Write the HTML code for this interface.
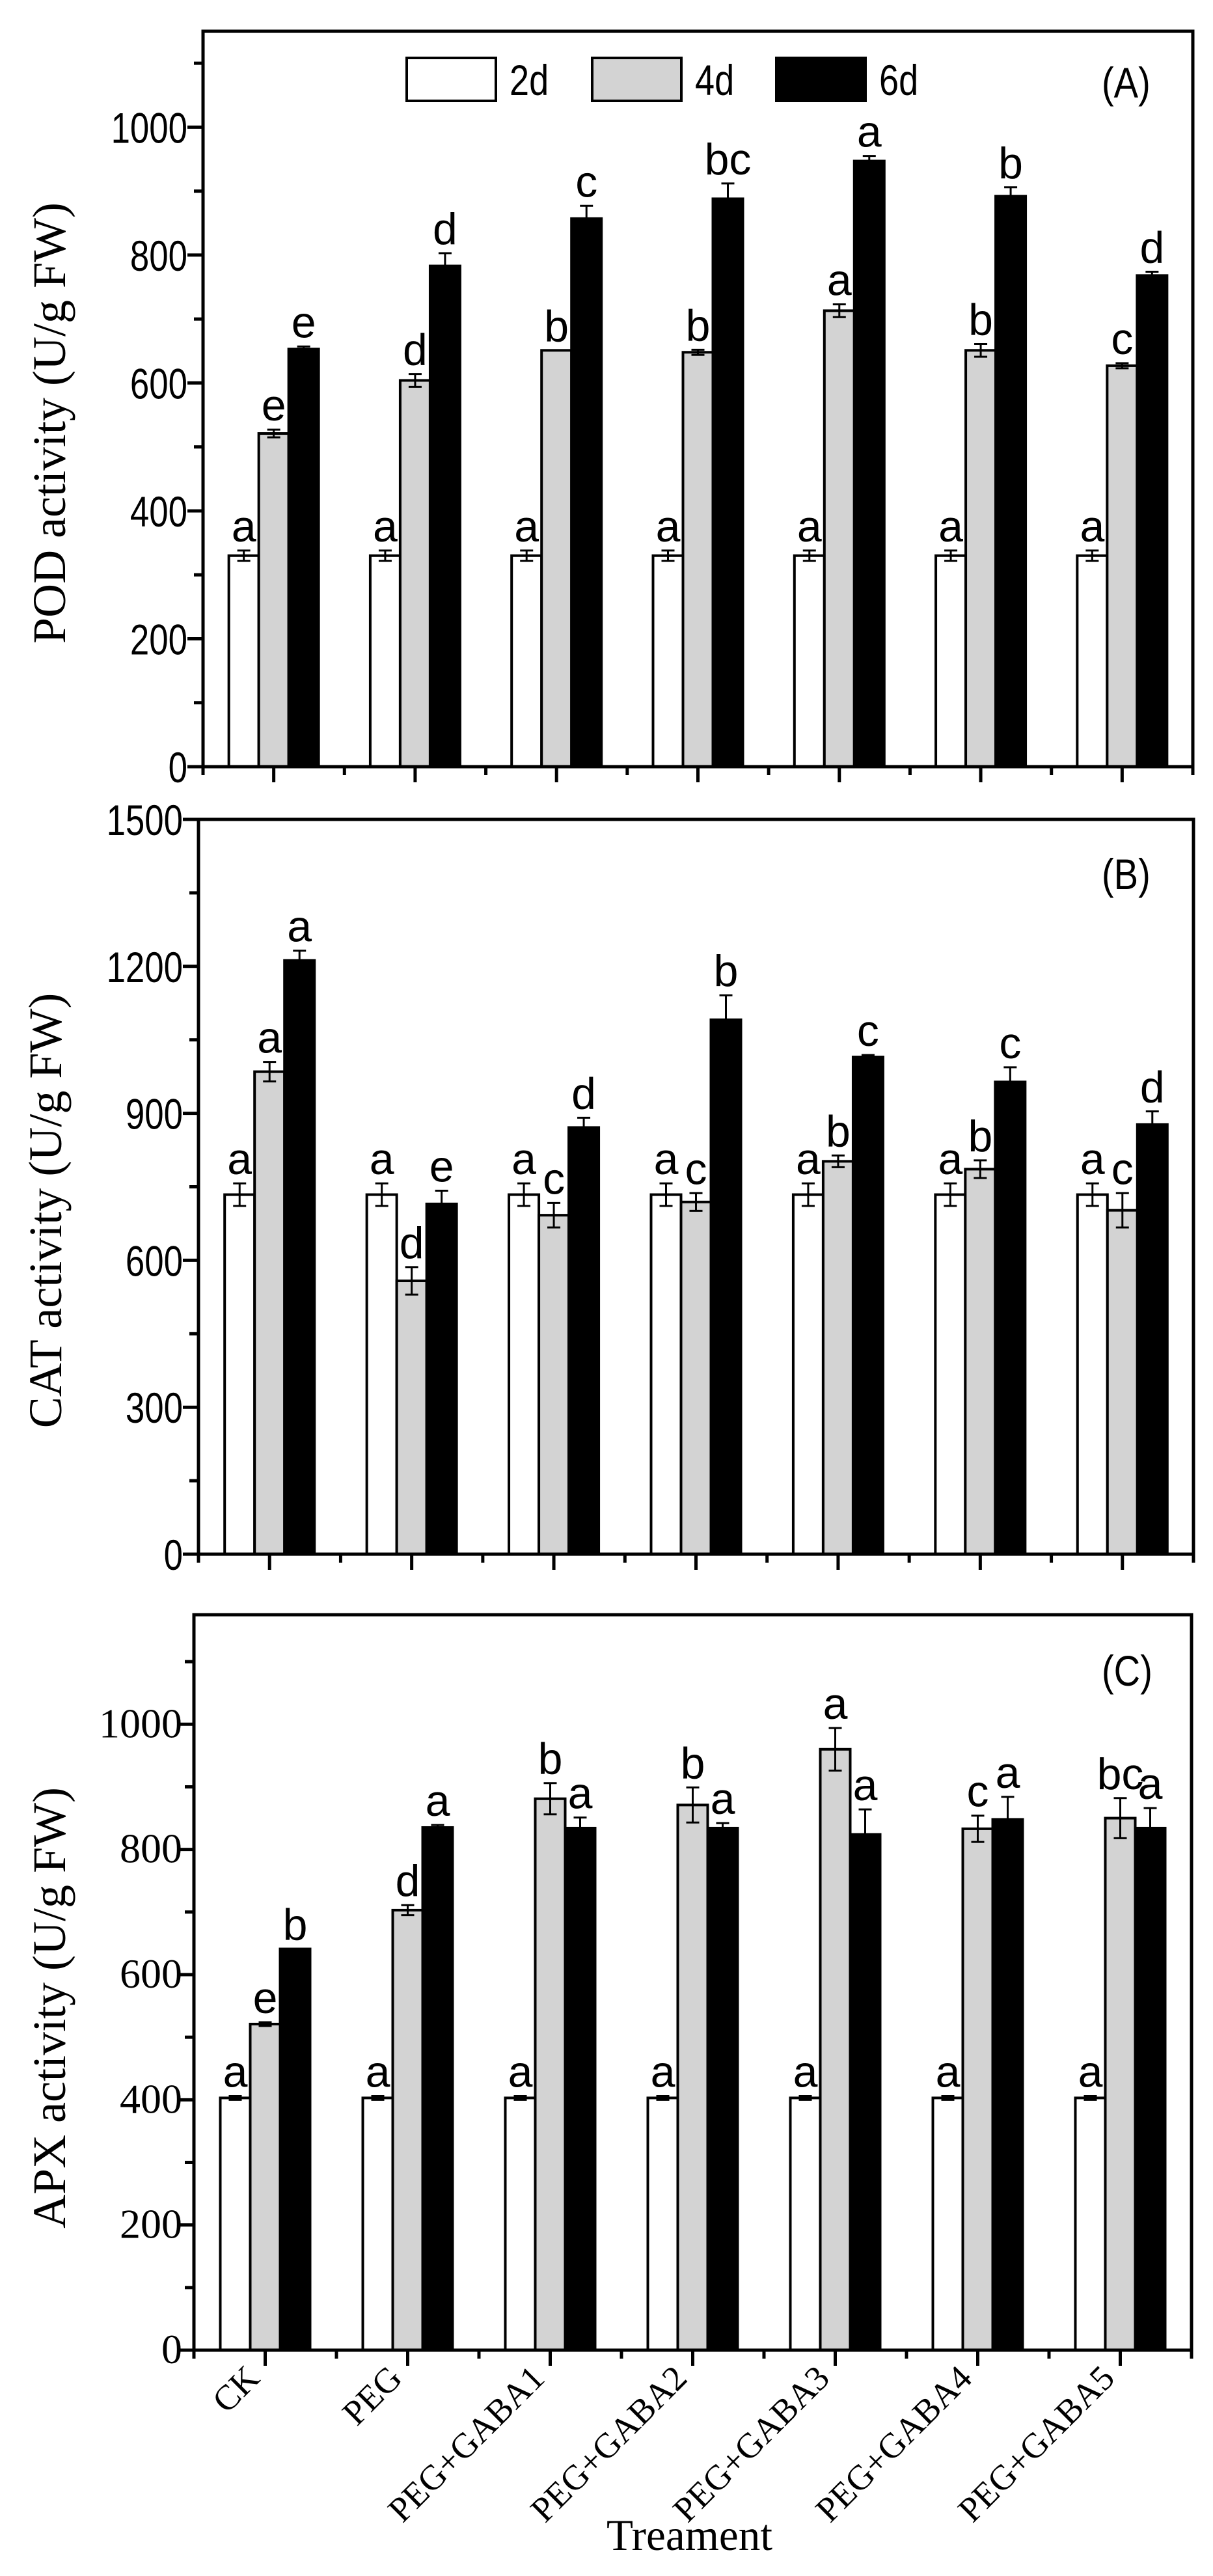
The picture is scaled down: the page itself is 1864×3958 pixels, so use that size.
<!DOCTYPE html>
<html><head><meta charset="utf-8"><title>Antioxidant enzyme activity</title>
<style>html,body{margin:0;padding:0;background:#fff}svg{display:block}</style></head>
<body>
<svg id="fig" xmlns="http://www.w3.org/2000/svg" width="1864" height="3958" viewBox="0 0 1864 3958"></svg>
<script>
const categories = ["CK","PEG","PEG+GABA1","PEG+GABA2","PEG+GABA3","PEG+GABA4","PEG+GABA5"];
const seriesNames = ["2d","4d","6d"];
// Panel A (POD)
const podD2 = [330,330,330,330,330,330,330];
const podD4 = [521,604,651,648,713,651,627];
const podD6 = [653,783,857,888,947,892,768];
const podErr2 = [8,8,8,8,8,8,8];
const podErr4 = [6,10,0,4,10,10,4];
const podErr6 = [4,20,20,24,8,14,6];
const podLet2 = ["a","a","a","a","a","a","a"];
const podLet4 = ["e","d","b","b","a","b","c"];
const podLet6 = ["e","d","c","bc","a","b","d"];
const podTicks = [0,200,400,600,800,1000];
// Panel B (CAT)
const catD2 = [734,734,734,734,734,734,734];
const catD4 = [985,558,692,719,802,786,702];
const catD6 = [1212,715,871,1091,1015,964,877];
const catErr2 = [23,23,23,23,23,23,23];
const catErr4 = [20,28,25,18,12,18,35];
const catErr6 = [20,27,20,50,4,30,27];
const catLet2 = ["a","a","a","a","a","a","a"];
const catLet4 = ["a","d","c","c","b","b","c"];
const catLet6 = ["a","e","d","b","c","c","d"];
const catTicks = [0,300,600,900,1200,1500];
// Panel C (APX)
const apxD2 = [403,403,403,403,403,403,403];
const apxD4 = [521,703,881,871,960,833,850];
const apxD6 = [641,835,834,834,824,848,834];
const apxErr2 = [3,3,3,3,3,3,3];
const apxErr4 = [3,8,25,28,34,21,32];
const apxErr6 = [0,4,17,8,40,36,32];
const apxLet2 = ["a","a","a","a","a","a","a"];
const apxLet4 = ["e","d","b","b","a","c","bc"];
const apxLet6 = ["b","a","a","a","a","a","a"];
const apxTicks = [0,200,400,600,800,1000];

const NS = "http://www.w3.org/2000/svg";
const svg = document.getElementById("fig");
function mk(tag, attrs, parent){
  const e = document.createElementNS(NS, tag);
  for (const k in attrs) e.setAttribute(k, attrs[k]);
  (parent||svg).appendChild(e);
  return e;
}
const fills = ["#ffffff","#d3d3d3","#000000"];

function panel(cfg){
  const g = mk("g", {});
  
  
  const {L,R,T,B,max} = cfg;
  const y = v => B - v/max*(B-T);
  const cw = (R-L)/categories.length;
  const cx = i => L + cw*(i+0.5);
  const bw = 46;
  const series = [cfg.d2,cfg.d4,cfg.d6], errs=[cfg.e2,cfg.e4,cfg.e6], lets=[cfg.l2,cfg.l4,cfg.l6];
  for (let s=0;s<3;s++){
    for (let i=0;i<categories.length;i++){
      const xc = cx(i) + (s-1)*bw;
      const v = series[s][i], e = errs[s][i];
      const r = mk("rect",{x:xc-bw/2,y:y(v),width:bw,height:B-y(v),fill:fills[s],stroke:"#000","stroke-width":4},g);
      
      
      if (e>0){
        const eb = mk("path",{d:`M${xc},${y(v+e)}V${y(v-e)}M${xc-10},${y(v+e)}H${xc+10}M${xc-10},${y(v-e)}H${xc+10}`,stroke:"#000","stroke-width":3,fill:"none"},g);
        
        
      }
      const t = mk("text",{x:xc,y:y(v+e)-14,"text-anchor":"middle","font-family":"Liberation Sans, sans-serif","font-size":68},g);
      t.textContent = lets[s][i];
      
      
    }
  }
  const fr = mk("rect",{x:L,y:T,width:R-L,height:B-T,fill:"none",stroke:"#000","stroke-width":5},g);
  
  
  const step = cfg.ticks[1]-cfg.ticks[0];
  for (let v=0; v<=max; v+=step/2){
    const major = Math.abs(v/step - Math.round(v/step))<1e-6;
    mk("line",{x1:L-(major?24:14),x2:L,y1:y(v),y2:y(v),stroke:"#000","stroke-width":5},g);
  }
  cfg.ticks.forEach(v=>{
    let t;
    if (cfg.serif){
      t = mk("text",{x:L-18,y:y(v)+20,"text-anchor":"end","font-family":"Liberation Serif, serif","font-size":64},g);
    } else {
      t = mk("text",{"text-anchor":"end","font-family":"Liberation Sans, sans-serif","font-size":66,transform:`translate(${L-24},${y(v)+24}) scale(0.8,1)`},g);
    }
    t.textContent = v;
    
    
  });
  for (let i=0;i<=categories.length;i++){
    mk("line",{x1:L+cw*i,x2:L+cw*i,y1:B,y2:B+13,stroke:"#000","stroke-width":5},g);
  }
  for (let i=0;i<categories.length;i++){
    mk("line",{x1:cx(i),x2:cx(i),y1:B,y2:B+24,stroke:"#000","stroke-width":5},g);
  }
  const yt = mk("text",{"text-anchor":"middle","font-family":"Liberation Serif, serif","font-size":72,transform:`translate(${cfg.tx},${cfg.ty}) rotate(-90)`},g);
  yt.textContent = cfg.title;
  
  
  const pl = mk("text",{"text-anchor":"start","font-family":"Liberation Sans, sans-serif","font-size":66,transform:`translate(1693,${cfg.ly}) scale(0.85,1)`},g);
  pl.textContent = cfg.label;
  
  
  return {cx,B};
}

panel({name:"pod-panel",L:312,R:1833,T:48,B:1178,max:1150,d2:podD2,d4:podD4,d6:podD6,e2:podErr2,e4:podErr4,e6:podErr6,l2:podLet2,l4:podLet4,l6:podLet6,ticks:podTicks,title:"POD activity (U/g FW)",tx:100,ty:650,label:"(A)",ly:150});
panel({name:"cat-panel",L:305,R:1834,T:1259,B:2388,max:1500,d2:catD2,d4:catD4,d6:catD6,e2:catErr2,e4:catErr4,e6:catErr6,l2:catLet2,l4:catLet4,l6:catLet6,ticks:catTicks,title:"CAT activity (U/g FW)",tx:94,ty:1860,label:"(B)",ly:1366});
const pc = panel({name:"apx-panel",L:298,R:1831,T:2481,B:3611,max:1175,d2:apxD2,d4:apxD4,d6:apxD6,e2:apxErr2,e4:apxErr4,e6:apxErr6,l2:apxLet2,l4:apxLet4,l6:apxLet6,ticks:apxTicks,serif:true,title:"APX activity (U/g FW)",tx:100,ty:3085,label:"(C)",ly:2590});

const lg = mk("g",{});


const legX = [625,910,1193];
seriesNames.forEach((n,s)=>{
  const r = mk("rect",{x:legX[s],y:89,width:137,height:66,fill:fills[s],stroke:"#000","stroke-width":4},lg);
  
  
  const t = mk("text",{"font-family":"Liberation Sans, sans-serif","font-size":66,transform:`translate(${legX[s]+158},146) scale(0.82,1)`},lg);
  t.textContent = n;
  
  
});

categories.forEach((c,i)=>{
  const t = mk("text",{"text-anchor":"end","font-family":"Liberation Serif, serif","font-size":54,transform:`translate(${pc.cx(i)-6},${pc.B+46}) rotate(-45)`});
  t.textContent = c;
  
  
});
const xt = mk("text",{x:932,y:3918,"font-family":"Liberation Serif, serif","font-size":68,textLength:255,lengthAdjust:"spacingAndGlyphs"});
xt.textContent = "Treament";


</script>
</body></html>
